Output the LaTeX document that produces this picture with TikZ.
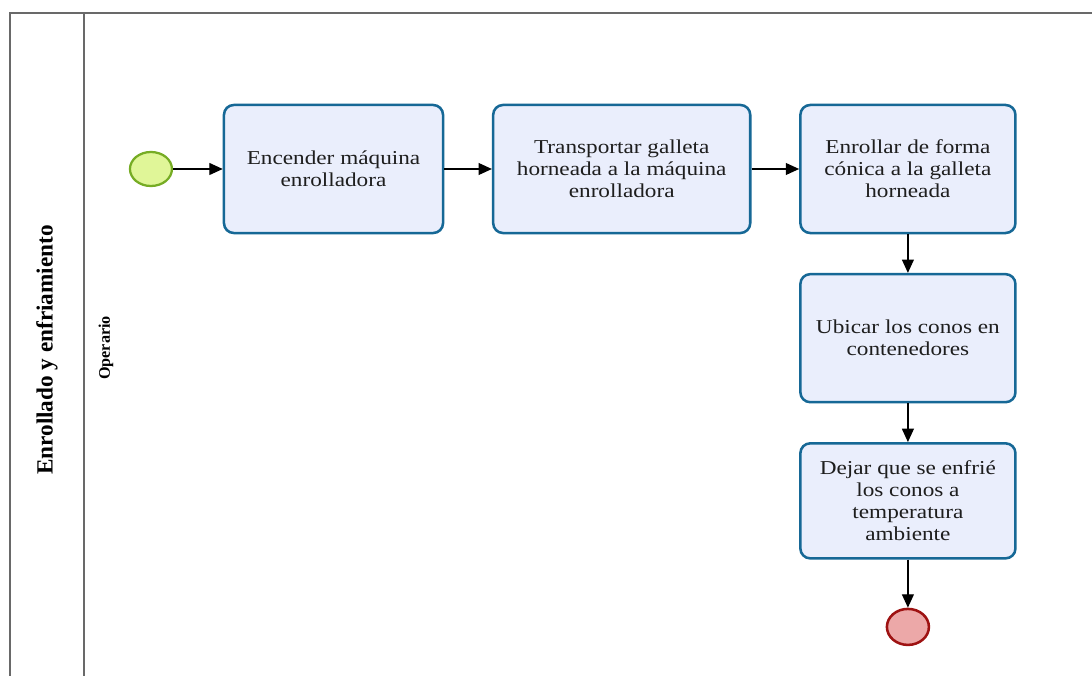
\documentclass[tikz,border=0pt]{standalone}
\usepackage{fontspec}
\setmainfont{Liberation Serif}
\newfontfamily\taskfont[FakeStretch=1.18]{Liberation Serif}
\usetikzlibrary{
  arrows.meta,
  positioning,
  shapes.geometric
}
\definecolor{taskfill}{RGB}{234, 238, 252}
\definecolor{taskdraw}{RGB}{22, 104, 150}
\definecolor{startfill}{RGB}{224, 246, 152}
\definecolor{startdraw}{RGB}{118, 172, 36}
\definecolor{endfill}{RGB}{236, 168, 168}
\definecolor{enddraw}{RGB}{158, 18, 18}
\definecolor{lanegray}{RGB}{105, 105, 105}
\definecolor{txtclr}{RGB}{30, 30, 30}
\tikzset{
  % Tareas del proceso
  taskbox/.style  = {rectangle, rounded corners=7pt, fill=taskfill, draw=taskdraw,
                     line width=1.8pt, align=center, text=txtclr, inner sep=2pt,
                     font=\taskfont\fontsize{14}{15.6}\selectfont,
                     minimum height=3.2cm},
  % Eventos de inicio y fin
  startev/.style  = {ellipse, fill=startfill, draw=startdraw, line width=1.6pt,
                     minimum width=1.05cm, minimum height=0.85cm, inner sep=0pt},
  endev/.style    = {ellipse, fill=endfill, draw=enddraw, line width=1.8pt,
                     minimum width=1.05cm, minimum height=0.9cm, inner sep=0pt},
  % Flechas de secuencia
  flowarrow/.style= {-{Triangle[length=9.5pt,width=8.5pt]}, line width=0.9pt, black},
  % Carril
  laneline/.style = {line width=1pt, draw=lanegray},
  lanetitle/.style= {rotate=90, font=\bfseries\fontsize{16.5}{18}\selectfont},
  rolename/.style = {rotate=90, font=\bfseries\fontsize{11.5}{13}\selectfont},
}
\begin{document}
\begin{tikzpicture}[x=0.025cm, y=-0.025cm]
  \useasboundingbox[fill=white] (0,0) rectangle (1092,676);
  % Marco del carril
  \draw[laneline] (10,676) -- (10,13) -- (1092,13);
  \draw[laneline] (84,13) -- (84,676);
  \node[lanetitle] (proceso) at (47,350) {Enrollado y enfriamiento};
  \node[rolename] (rol) at (106,348) {Operario};
  % Tareas
  \node[taskbox, minimum width=5.475cm] (encender) at (333.5,169)
    {Encender máquina\\enrolladora};
  \node[taskbox, minimum width=6.425cm, right=1.19cm of encender] (transportar)
    {Transportar galleta\\horneada a la máquina\\enrolladora};
  \node[taskbox, minimum width=5.375cm, right=1.19cm of transportar] (enrollar)
    {Enrollar de forma\\cónica a la galleta\\horneada};
  \node[taskbox, minimum width=5.375cm, below=0.965cm of enrollar] (ubicar)
    {Ubicar los conos en\\contenedores};
  \node[taskbox, minimum width=5.375cm, minimum height=2.875cm,
        below=0.965cm of ubicar] (enfriar)
    {Dejar que se enfrié\\los conos a\\temperatura\\ambiente};
  % Eventos
  \node[startev, left=1.24cm of encender] (inicio) {};
  \node[endev, below=1.2cm of enfriar] (fin) {};
  % Secuencia
  \draw[flowarrow] (inicio) -- (encender);
  \draw[flowarrow] (encender) -- (transportar);
  \draw[flowarrow] (transportar) -- (enrollar);
  \draw[flowarrow] (enrollar) -- (ubicar);
  \draw[flowarrow] (ubicar) -- (enfriar);
  \draw[flowarrow] (enfriar) -- (fin);
\end{tikzpicture}
\end{document}
